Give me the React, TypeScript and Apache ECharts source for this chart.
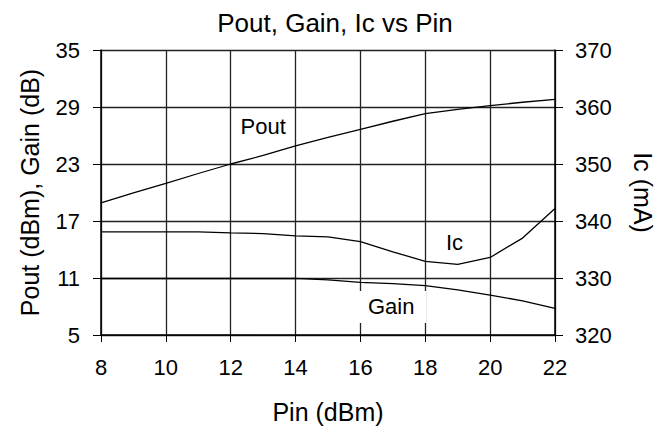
import React, { useEffect, useRef } from "react";
import * as echarts from "echarts";

const pin = [8, 9, 10, 11, 12, 13, 14, 15, 16, 17, 18, 19, 20, 21, 22];
const pout = [18.9, 19.95, 20.95, 22.0, 23.0, 23.9, 24.9, 25.8, 26.65, 27.5, 28.3, 28.75, 29.15, 29.5, 29.8];
const gain = [10.95, 10.95, 10.95, 10.95, 10.95, 10.95, 10.95, 10.8, 10.55, 10.4, 10.2, 9.75, 9.2, 8.6, 7.8];
const ic = [338.1, 338.1, 338.1, 338.1, 337.9, 337.8, 337.4, 337.2, 336.4, 334.6, 332.9, 332.4, 333.6, 337.0, 342.2];

const curveLabels = [
  { text: "Pout", at: [13, 26.9], bg: false },
  { text: "Ic", at: [18.9, 14.7], bg: false },
  { text: "Gain", at: [16.95, 7.95], bg: true },
];

const FONT = "'Liberation Sans', Arial, Helvetica, sans-serif";

export default function App() {
  const ref = useRef<HTMLDivElement>(null);
  useEffect(() => {
    if (!ref.current) return;
    const chart = echarts.init(ref.current, undefined, { renderer: "svg" });
    const lineStyle = { color: "#000", width: 1.3 };
    chart.setOption({
      animation: false,
      backgroundColor: "#fff",
      textStyle: { fontFamily: FONT, color: "#000" },
      title: {
        text: "Pout, Gain, Ic vs Pin",
        left: 330,
        top: 5,
        textAlign: "center",
        textStyle: { fontFamily: FONT, fontSize: 26, fontWeight: "normal", color: "#000" },
      },
      grid: { left: 101, right: 117, top: 50, bottom: 95 },
      xAxis: {
        type: "value",
        min: 8,
        max: 22,
        interval: 2,
        name: "Pin (dBm)",
        nameLocation: "middle",
        nameGap: 64,
        nameTextStyle: { fontFamily: FONT, fontSize: 25, color: "#000" },
        axisLine: { show: true, lineStyle: { color: "#000", width: 1.5 } },
        axisTick: { show: true, length: 7, lineStyle: { color: "#000" } },
        axisLabel: { fontFamily: FONT, fontSize: 22, color: "#000", margin: 21 },
        splitLine: { show: true, lineStyle: { color: "#222", width: 1.3 } },
      },
      yAxis: [
        {
          type: "value",
          min: 5,
          max: 35,
          interval: 6,
          name: "Pout (dBm), Gain (dB)",
          nameLocation: "middle",
          nameGap: 59,
          nameTextStyle: { fontFamily: FONT, fontSize: 25, color: "#000" },
          axisLine: { show: true, lineStyle: { color: "#000", width: 1.5 } },
          axisTick: { show: true, length: 8, lineStyle: { color: "#000" } },
          axisLabel: { fontFamily: FONT, fontSize: 22, color: "#000", margin: 21 },
          splitLine: { show: true, lineStyle: { color: "#222", width: 1.3 } },
        },
        {
          type: "value",
          min: 320,
          max: 370,
          interval: 10,
          position: "right",
          name: "Ic (mA)",
          nameLocation: "middle",
          nameRotate: -90,
          nameGap: 75,
          nameTextStyle: { fontFamily: FONT, fontSize: 25, color: "#000" },
          axisLine: { show: true, lineStyle: { color: "#000", width: 1.5 } },
          axisTick: { show: true, length: 8, lineStyle: { color: "#000" } },
          axisLabel: { fontFamily: FONT, fontSize: 22, color: "#000", margin: 20 },
          splitLine: { show: false },
        },
      ],
      series: [
        {
          name: "Pout",
          type: "line",
          data: pin.map((x, i) => [x, pout[i]]),
          yAxisIndex: 0,
          symbol: "none",
          lineStyle,
          z: 3,
        },
        {
          name: "Gain",
          type: "line",
          data: pin.map((x, i) => [x, gain[i]]),
          yAxisIndex: 0,
          symbol: "none",
          lineStyle,
          z: 3,
        },
        {
          name: "Ic",
          type: "line",
          data: pin.map((x, i) => [x, ic[i]]),
          yAxisIndex: 1,
          symbol: "none",
          lineStyle,
          z: 3,
        },
      ],
    });
    const graphics = curveLabels.map((l) => {
      const p = chart.convertToPixel({ xAxisIndex: 0, yAxisIndex: 0 }, l.at) as number[];
      return {
        type: "text",
        x: p[0],
        y: p[1],
        z: 10,
        style: {
          text: l.text,
          fontFamily: FONT,
          fontSize: 22,
          fill: "#000",
          align: "center",
          verticalAlign: "middle",
          backgroundColor: l.bg ? "#fff" : undefined,
          padding: l.bg ? [5, 12] : 0,
        },
      };
    });
    chart.setOption({ graphic: graphics });
    return () => chart.dispose();
  }, []);
  return (
    <div
      ref={ref}
      style={{ position: "absolute", left: 0, top: 0, width: 672, height: 430 }}
    />
  );
}
